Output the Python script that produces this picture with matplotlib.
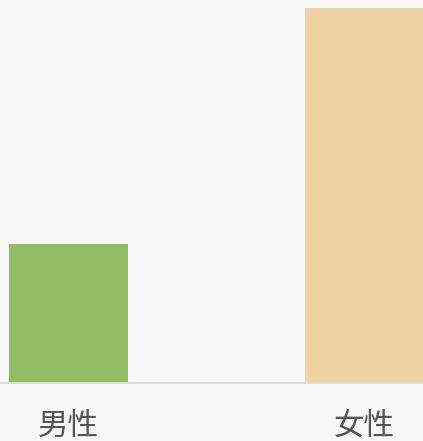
import matplotlib.pyplot as plt
import matplotlib.transforms as mtransforms

plt.rcParams['font.family'] = ['Noto Sans CJK SC', 'DejaVu Sans']

# data
categories = ['男性', '女性']
values = [27, 73]
colors = ['#92bc65', '#f0d4a5']

fig = plt.figure(figsize=(4.23, 4.41), dpi=100, facecolor='#f8f8f8')
ax = fig.add_axes([0, 1 - 383 / 441, 1, 383 / 441])
ax.set_facecolor('#f8f8f8')

x = range(len(categories))
ax.bar(x, values, width=0.402, color=colors)

ax.set_xlim(-0.2314, 1.1976)
ax.set_ylim(0, 74.56)

for s in ['top', 'left', 'right']:
    ax.spines[s].set_visible(False)
ax.spines['bottom'].set_color('#dcdcdc')
ax.spines['bottom'].set_linewidth(1.5)
ax.set_yticks([])
ax.set_xticks([])

# category labels under the bars
trans = mtransforms.blended_transform_factory(ax.transData, ax.transAxes)
for i, name in enumerate(categories):
    ax.text(i, -43 / 383, name, transform=trans, ha='center', va='center',
            fontsize=22, color='#555555')

fig.savefig('out.png', dpi=100, facecolor='#f8f8f8')
